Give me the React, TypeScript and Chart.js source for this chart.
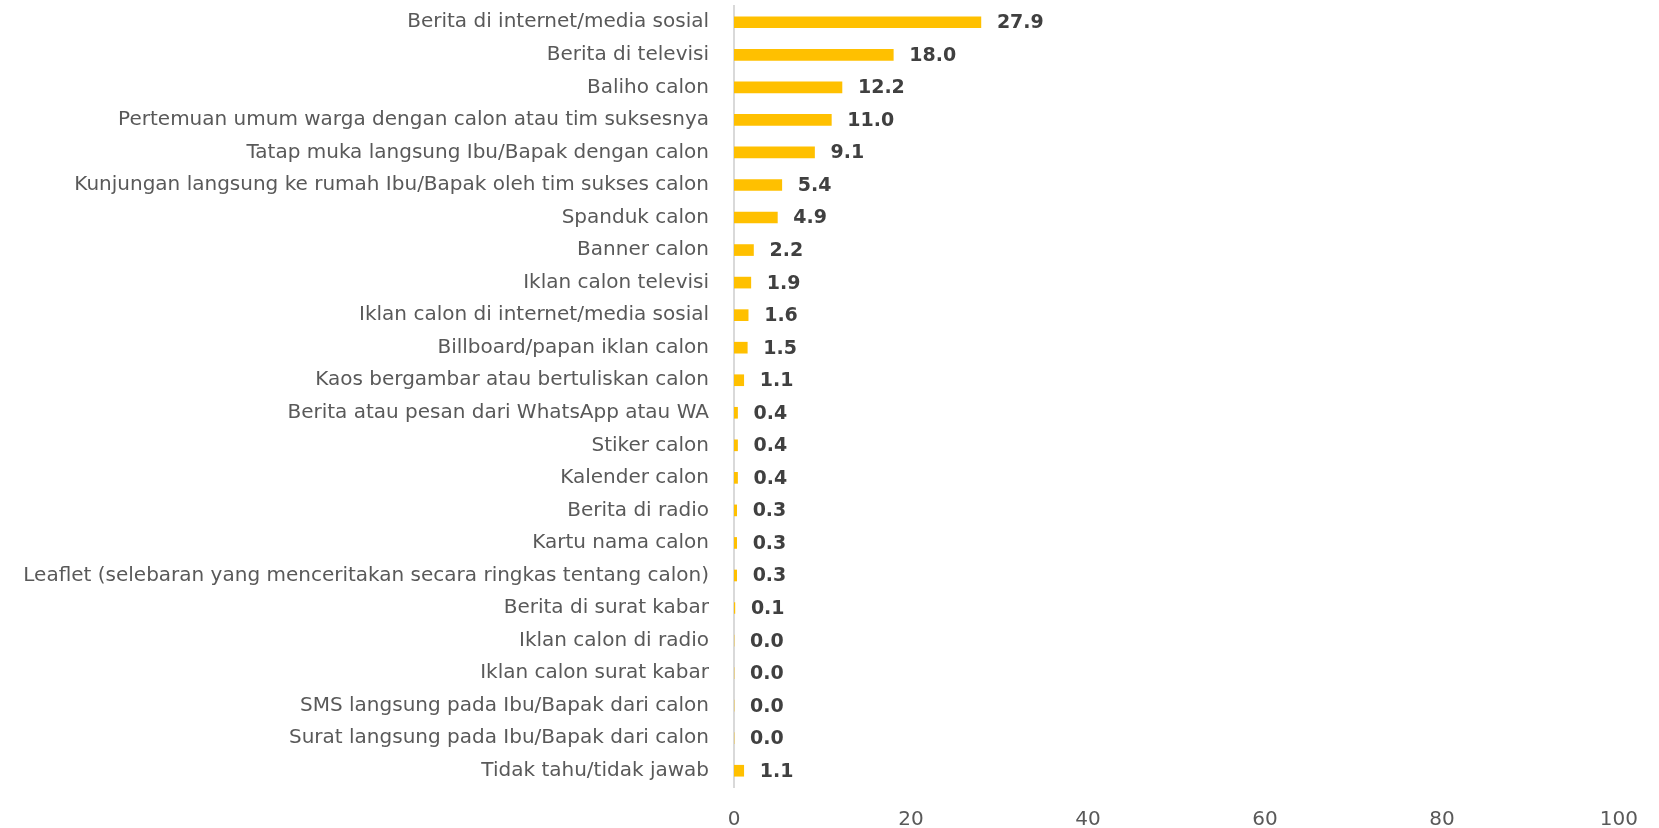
import React, { useEffect, useRef } from "react";
import { Chart, registerables } from "chart.js";

Chart.register(...registerables);

const categories: string[] = [
  "Berita di internet/media sosial",
  "Berita di televisi",
  "Baliho calon",
  "Pertemuan umum warga dengan calon atau tim suksesnya",
  "Tatap muka langsung Ibu/Bapak dengan calon",
  "Kunjungan langsung ke rumah Ibu/Bapak oleh tim sukses calon",
  "Spanduk calon",
  "Banner calon",
  "Iklan calon televisi",
  "Iklan calon di internet/media sosial",
  "Billboard/papan iklan calon",
  "Kaos bergambar atau bertuliskan calon",
  "Berita atau pesan dari WhatsApp atau WA",
  "Stiker calon",
  "Kalender calon",
  "Berita di radio",
  "Kartu nama calon",
  "Leaflet (selebaran yang menceritakan secara ringkas tentang calon)",
  "Berita di surat kabar",
  "Iklan calon di radio",
  "Iklan calon surat kabar",
  "SMS langsung pada Ibu/Bapak dari calon",
  "Surat langsung pada Ibu/Bapak dari calon",
  "Tidak tahu/tidak jawab",
];

const values: number[] = [
  27.9, 18.0, 12.2, 11.0, 9.1, 5.4, 4.9, 2.2, 1.9, 1.6, 1.5, 1.1, 0.4, 0.4, 0.4,
  0.3, 0.3, 0.3, 0.1, 0.0, 0.0, 0.0, 0.0, 1.1,
];

const xTicks: number[] = [0, 20, 40, 60, 80, 100];

const FONT = "'DejaVu Sans', sans-serif";

const valueLabels = {
  id: "valueLabels",
  afterDatasetsDraw(chart: any) {
    const ctx = chart.ctx;
    const meta = chart.getDatasetMeta(0);
    ctx.save();
    ctx.font = `bold 19px ${FONT}`;
    ctx.fillStyle = "#404040";
    ctx.textAlign = "left";
    ctx.textBaseline = "middle";
    meta.data.forEach((bar: any, i: number) => {
      ctx.fillText(values[i].toFixed(1), bar.x + 16, bar.y + 1);
    });
    ctx.restore();
  },
};

export default function App() {
  const ref = useRef<HTMLCanvasElement>(null);

  useEffect(() => {
    if (!ref.current) return;
    const chart = new Chart(ref.current, {
      type: "bar",
      data: {
        labels: categories,
        datasets: [
          {
            data: values,
            backgroundColor: "#FFC000",
            barThickness: 11,
            borderWidth: 0,
          },
        ],
      },
      options: {
        indexAxis: "y",
        responsive: false,
        animation: false,
        layout: { padding: { top: 6, right: 32, left: 0, bottom: 0 } },
        plugins: {
          legend: { display: false },
          tooltip: { enabled: false },
        },
        scales: {
          x: {
            min: 0,
            max: 100,
            afterBuildTicks(scale: any) {
              scale.ticks = xTicks.map((v) => ({ value: v }));
            },
            afterFit(scale: any) {
              scale.height = 41;
            },
            grid: { display: false, drawTicks: false },
            border: { display: false },
            ticks: {
              color: "#595959",
              font: { family: FONT, size: 20 },
              padding: 21,
            },
          },
          y: {
            afterFit(scale: any) {
              scale.width = 734;
              scale.paddingTop = 0;
              scale.paddingBottom = 0;
            },
            grid: { display: false, drawTicks: false },
            border: { display: true, color: "#D9D9D9", width: 2 },
            ticks: {
              color: "#595959",
              font: { family: FONT, size: 20 },
              padding: 25,
              autoSkip: false,
            },
          },
        },
      },
      plugins: [valueLabels],
    });
    return () => chart.destroy();
  }, []);

  return (
    <div style={{ position: "fixed", left: 0, top: 0, width: 1659, height: 828, background: "#fff" }}>
      <canvas ref={ref} width={1659} height={828} style={{ width: 1659, height: 828 }} />
    </div>
  );
}
